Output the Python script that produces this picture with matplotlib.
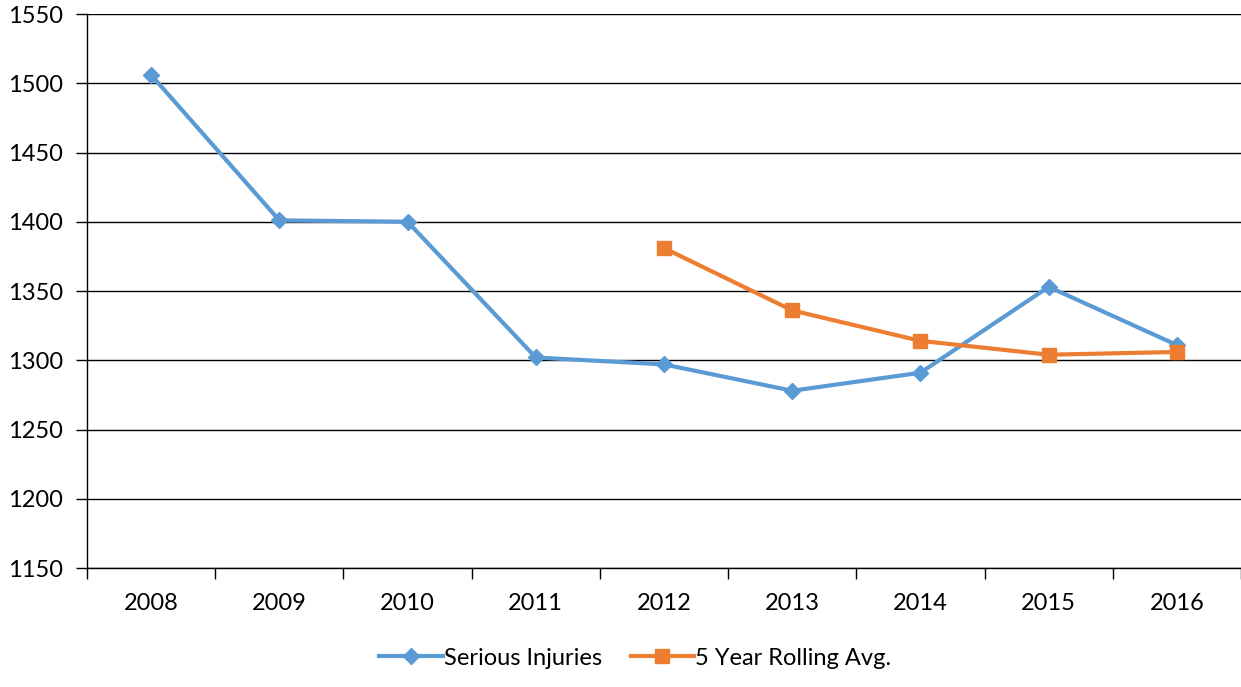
import matplotlib.pyplot as plt
import numpy as np

years = ["2008", "2009", "2010", "2011", "2012", "2013", "2014", "2015", "2016"]
serious = [1506, 1401, 1400, 1302, 1297, 1278, 1291, 1353, 1311]
rolling_years = ["2012", "2013", "2014", "2015", "2016"]
rolling = [1381, 1336, 1314, 1304, 1306]

plt.rcParams['font.family'] = ['Lato', 'DejaVu Sans']

fig = plt.figure(figsize=(12.41, 6.87), dpi=100)
ax = fig.add_axes([0.0701, 0.1732, 0.9299, 0.8064])

x = np.arange(len(years))
xr = [years.index(y) for y in rolling_years]

ax.plot(x, serious, color='#5B9BD5', linewidth=3, marker='D', markersize=8,
        label='Serious Injuries')
ax.plot(xr, rolling, color='#ED7D31', linewidth=3, marker='s', markersize=10,
        label='5 Year Rolling Avg.')

ax.set_xlim(-0.5, len(years) - 0.5)
ax.set_ylim(1150, 1550)
ax.set_yticks(np.arange(1150, 1551, 50))
ax.set_xticks(x)
ax.set_xticklabels(years)
ax.set_xticks(np.arange(-0.5, len(years), 1), minor=True)
ax.tick_params(axis='x', which='major', length=0, pad=18, labelsize=17)
ax.tick_params(axis='x', which='minor', length=8, width=1)
ax.tick_params(axis='y', length=8, width=1, labelsize=17, pad=9)
ax.grid(axis='y', color='black', linewidth=1)
ax.set_axisbelow(True)
for s in ['top', 'right']:
    ax.spines[s].set_visible(False)
ax.spines['left'].set_linewidth(1)
ax.spines['bottom'].set_linewidth(1)

fig.legend(loc='center', bbox_to_anchor=(0.512, 0.042), ncol=2, frameon=False,
           fontsize=17, handlelength=2.7, columnspacing=1.2, handletextpad=0.05)

plt.savefig('out.png', dpi=100)
